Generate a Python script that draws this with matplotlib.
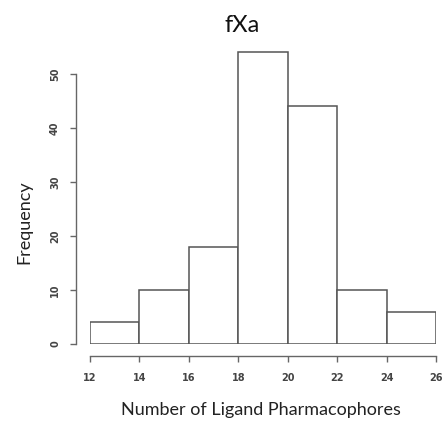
import matplotlib
matplotlib.use("Agg")
import matplotlib.pyplot as plt

bin_edges = [12, 14, 16, 18, 20, 22, 24, 26]
counts = [4, 10, 18, 54, 44, 10, 6]
x_ticks = [12, 14, 16, 18, 20, 22, 24, 26]
y_ticks = [0, 10, 20, 30, 40, 50]
title = "fXa"
xlabel = "Number of Ligand Pharmacophores"
ylabel = "Frequency"

W, H = 444, 424
PT = 0.72  # points per pixel at dpi=100
fig = plt.figure(figsize=(W / 100, H / 100), dpi=100)
left_px, right_px = 90, 436
bottom_px, top_px = 344, 49.7
ax = fig.add_axes([left_px / W, (H - bottom_px) / H,
                   (right_px - left_px) / W, (bottom_px - top_px) / H])

lefts = bin_edges[:-1]
widths = [b - a for a, b in zip(bin_edges[:-1], bin_edges[1:])]
ax.bar(lefts, counts, width=widths, align="edge", facecolor="white",
       edgecolor="#555555", linewidth=1.1)

ax.set_xlim(12, 26)
ax.set_ylim(0, 54.5)

axis_col = "#666666"
for s in ["top", "right"]:
    ax.spines[s].set_visible(False)
ax.spines["left"].set_position(("outward", 14 * PT))
ax.spines["bottom"].set_position(("outward", 12 * PT))
ax.spines["left"].set_bounds(0, 50)
ax.spines["bottom"].set_bounds(12, 26)
for s in ["left", "bottom"]:
    ax.spines[s].set_color(axis_col)
    ax.spines[s].set_linewidth(1.0)

ax.set_xticks(x_ticks)
ax.set_yticks(y_ticks)
ax.set_xticklabels([str(t) for t in x_ticks])
ax.set_yticklabels([str(t) for t in y_ticks], rotation=90, va="center")
ax.tick_params(axis="both", length=6 * PT, width=1.0, color=axis_col,
               labelsize=7, labelcolor="#444444", labelfontfamily="DejaVu Sans")
ax.tick_params(axis="x", pad=11 * PT)
ax.tick_params(axis="y", pad=10 * PT)
for lab in ax.get_xticklabels() + ax.get_yticklabels():
    lab.set_fontweight("bold")

fig.text(242 / W, 1 - 26 / H, title, ha="center", va="center", fontsize=17,
         family="Lato", color="#111111")
fig.text(261 / W, 1 - 410 / H, xlabel, ha="center", va="center", fontsize=13,
         family="Lato", color="#222222")
fig.text(24 / W, 1 - 222 / H, ylabel, ha="center", va="center", fontsize=13,
         family="Lato", color="#222222", rotation=90)

fig.savefig("out.png", dpi=100, facecolor="white")
